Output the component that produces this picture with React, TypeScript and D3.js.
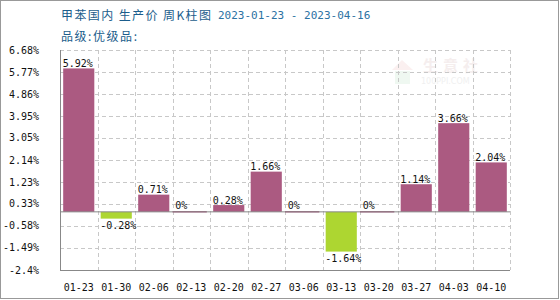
import React from "react";
import * as d3 from "d3";

const categories = ["01-23", "01-30", "02-06", "02-13", "02-20", "02-27", "03-06", "03-13", "03-20", "03-27", "04-03", "04-10"];
const values = [5.92, -0.28, 0.71, 0, 0.28, 1.66, 0, -1.64, 0, 1.14, 3.66, 2.04];
const yTickLabels = ["6.68%", "5.77%", "4.86%", "3.95%", "3.05%", "2.14%", "1.23%", "0.33%", "-0.58%", "-1.49%", "-2.4%"];
const titleMain = "甲苯国内 生产价 周K柱图";
const titleDate = "2023-01-23 - 2023-04-16";
const subtitle = "品级:优级品:";

const W = 560, H = 300;
const M = { left: 60, right: 50, top: 50, bottom: 30 };
const POS = "#AB5A81";
const NEG = "#ADD631";
const MONO = "'DejaVu Sans Mono', monospace";
const CJK = "'Noto Sans CJK SC', sans-serif";

export default function App() {
  const x = d3.scaleBand<string>().domain(categories).range([M.left, W - M.right]).paddingInner(0.17).paddingOuter(0.085);
  const band = d3.scaleBand<string>().domain(categories).range([M.left, W - M.right]);
  const y = d3.scaleLinear().domain([-2.4, 6.68]).range([H - M.bottom, M.top]);
  const y0 = y(0);
  const tickVals = yTickLabels.map((l) => parseFloat(l));
  const plotR = W - M.right;
  const plotB = H - M.bottom;

  return (
    <div style={{ position: "absolute", left: 0, top: 0 }}>
      <svg width={W} height={H} style={{ display: "block" }}>
        <rect x={0} y={0} width={W} height={H} fill="#fff" />
        <rect x={0.5} y={0.5} width={558} height={298} fill="none" stroke="#999" strokeWidth={1} />
        {/* watermark */}
        <g>
          <polygon points="392,70 402,60 413,70" fill="#fbf0f0" />
          <rect x={395} y={71} width={15} height={13} fill="#eff8f1" />
          <text x={423} y={71} fontFamily={CJK} fontSize={15} fontWeight="bold" fill="#f5eeee" letterSpacing={5}>生意社</text>
          <text x={421} y={84} fontFamily="'DejaVu Sans', sans-serif" fontSize={8} fill="#f0f0f0">100PPI.COM</text>
        </g>
        {/* title */}
        <text x={61} y={19.5} fontFamily={CJK} fontSize={12} fill="#1b5d8c" textLength={150} lengthAdjust="spacing">{titleMain}</text>
        <text x={218} y={19} fontFamily={MONO} fontSize={11} fill="#2c72a3">{titleDate}</text>
        <text x={61} y={40.5} fontFamily={CJK} fontSize={12} fill="#1b5d8c" textLength={76} lengthAdjust="spacing">{subtitle}</text>
        {/* grid */}
        {tickVals.map((v, i) => (
          <line key={"h" + i} x1={M.left} x2={plotR} y1={Math.round(y(v)) + 0.5} y2={Math.round(y(v)) + 0.5} stroke="#c8c8c8" strokeDasharray="4,3" />
        ))}
        {categories.map((c, i) => (
          <line key={"v" + i} x1={Math.round((band(c) as number) + band.bandwidth()) + 0.5} x2={Math.round((band(c) as number) + band.bandwidth()) + 0.5} y1={M.top} y2={plotB} stroke="#c8c8c8" strokeDasharray="4,3" />
        ))}
        {/* bars */}
        {categories.map((c, i) => {
          const v = values[i];
          const bx = x(c) as number;
          if (v === 0) {
            return <line key={"b" + i} x1={band(c) as number} x2={bx + x.bandwidth()} y1={y0} y2={y0} stroke={POS} strokeWidth={1.5} />;
          }
          return (
            <rect key={"b" + i} x={bx} y={Math.min(y(v), y0)} width={x.bandwidth()} height={Math.abs(y(v) - y0)} fill={v > 0 ? POS : NEG} />
          );
        })}
        {/* axes */}
        <line x1={M.left} x2={plotR} y1={y0} y2={y0} stroke="#888" strokeWidth={1} />
        <line x1={M.left + 0.5} x2={M.left + 0.5} y1={M.top} y2={plotB} stroke="#888" strokeWidth={1} />
        <line x1={M.left} x2={plotR} y1={plotB + 0.5} y2={plotB + 0.5} stroke="#888" strokeWidth={1} />
        {/* labels */}
        {categories.map((c, i) => {
          const v = values[i];
          const bx = (x(c) as number) - 0.5;
          const ty = v > 0 ? y(v) - 1.5 : v < 0 ? y(v) + 10 : y0 - 2.5;
          return (
            <text key={"l" + i} x={bx} y={ty} fontFamily={MONO} fontSize={10} fill="#111">{v + "%"}</text>
          );
        })}
        {yTickLabels.map((l, i) => (
          <text key={"yt" + i} x={39} y={y(tickVals[i])} dy="0.35em" textAnchor="end" fontFamily={MONO} fontSize={10} fill="#111">{l}</text>
        ))}
        {categories.map((c, i) => (
          <text key={"xt" + i} x={(band(c) as number) + band.bandwidth() / 2} y={290.5} textAnchor="middle" fontFamily={MONO} fontSize={10} fill="#111">{c}</text>
        ))}
      </svg>
    </div>
  );
}
